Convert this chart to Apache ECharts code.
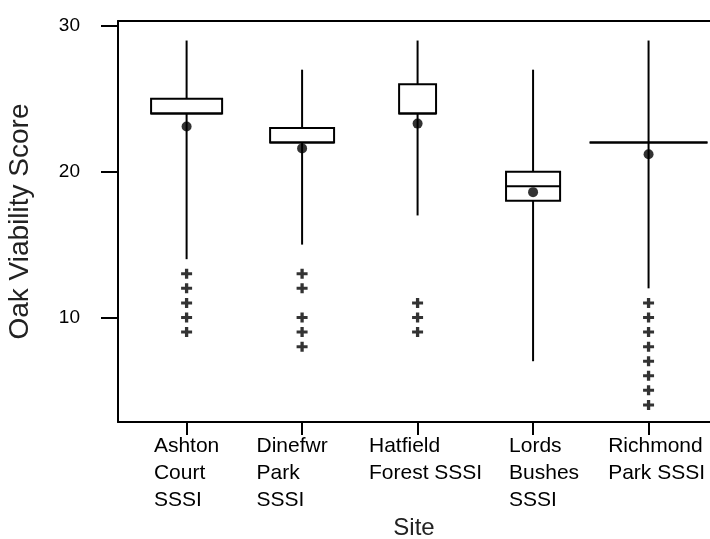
<!DOCTYPE html>
<html><head><meta charset="utf-8">
<script src="https://cdn.jsdelivr.net/npm/echarts@6/dist/echarts.min.js"></script>
<style>html,body{margin:0;padding:0;background:#fff}#c{width:710px;height:539px}</style>
</head><body><div id="c"></div>
<script>
// ---- data ----
const categories = ['Ashton\nCourt\nSSSI', 'Dinefwr\nPark\nSSSI', 'Hatfield\nForest SSSI', 'Lords\nBushes\nSSSI', 'Richmond\nPark SSSI'];
const sitePositions = [1, 2, 3, 4, 5];
const whiskerLow  = [14, 15, 17, 7, 12];
const q1          = [24, 22, 24, 18, 22];
const median      = [24, 22, 24, 19, 22];
const q3          = [25, 23, 26, 20, 22];
const whiskerHigh = [29, 27, 29, 27, 29];
const means       = [23.1, 21.6, 23.3, 18.6, 21.2];
const outliers = [
  [13, 12, 11, 10, 9],
  [13, 12, 10, 9, 8],
  [11, 10, 9],
  [],
  [11, 10, 9, 8, 7, 6, 5, 4]
];
const yTicks = [10, 20, 30];

// ---- style ----
const boxWidthRatio = [0.615, 0.554, 0.32, 0.468, 1.02]; // box widths relative to site spacing
const labelShiftPx = [0, -10, 8, 11, 8];                 // horizontal nudge of each tick label block
const FONT = 'Liberation Sans, Arial, sans-serif';

const boxData = sitePositions.map((p, i) => [p, whiskerLow[i], q1[i], median[i], q3[i], whiskerHigh[i]]);
const meanData = sitePositions.map((p, i) => [p, means[i]]);
const outlierData = [];
outliers.forEach((arr, i) => arr.forEach(v => outlierData.push([sitePositions[i], v])));

const rich = {};
labelShiftPx.forEach((s, i) => {
  rich['l' + i] = {
    align: 'left', fontSize: 21, lineHeight: 27, fontFamily: FONT, color: '#000',
    padding: s >= 0 ? [0, 0, 0, 2 * s] : [0, -2 * s, 0, 0]
  };
});

const chart = echarts.init(document.getElementById('c'), null, {renderer: 'canvas'});
const lineStyle = {color: '#000', width: 2};
const xMin = 0.406, xMax = 5.532;

chart.setOption({
  backgroundColor: '#fff',
  animation: false,
  grid: {left: 118, top: 21, right: 0, bottom: 117, containLabel: false, outerBoundsMode: 'none'},
  xAxis: [{
    type: 'value', min: xMin, max: xMax, position: 'bottom',
    axisLine: {show: true, onZero: false, lineStyle: lineStyle},
    axisTick: {show: true, length: 13, customValues: sitePositions, lineStyle: lineStyle},
    axisLabel: {
      customValues: sitePositions, margin: 11, align: 'center',
      formatter: v => {
        const idx = sitePositions.indexOf(Math.round(v));
        if (idx < 0) return '';
        return categories[idx].split('\n').map(s => '{l' + idx + '|' + s + '}').join('\n');
      },
      rich: rich
    },
    splitLine: {show: false},
    name: 'Site', nameLocation: 'middle', nameGap: 87,
    nameTextStyle: {fontSize: 24, fontFamily: FONT, color: '#222'}
  }, {
    type: 'value', min: xMin, max: xMax, position: 'top',
    axisLine: {show: true, onZero: false, lineStyle: lineStyle},
    axisTick: {show: false}, axisLabel: {show: false}, splitLine: {show: false}
  }],
  yAxis: {
    type: 'value', min: 2.83, max: 30.34,
    axisLine: {show: true, onZero: false, lineStyle: lineStyle},
    axisTick: {show: true, length: 17, customValues: yTicks, lineStyle: lineStyle},
    axisLabel: {customValues: yTicks, margin: 38, fontSize: 19, fontFamily: FONT, color: '#000'},
    splitLine: {show: false},
    name: 'Oak Viability Score', nameLocation: 'middle', nameGap: 84,
    nameTextStyle: {fontSize: 28, fontFamily: FONT, color: '#222'}
  },
  series: [{
    type: 'custom',
    data: boxData,
    encode: {x: 0, y: [1, 2, 3, 4, 5]},
    renderItem: function (params, api) {
      const i = params.dataIndex;
      const x = api.value(0);
      const pLow = api.coord([x, api.value(1)]);
      const pQ1 = api.coord([x, api.value(2)]);
      const pMed = api.coord([x, api.value(3)]);
      const pQ3 = api.coord([x, api.value(4)]);
      const pHigh = api.coord([x, api.value(5)]);
      const w = api.size([boxWidthRatio[i], 0])[0];
      const h = w / 2;
      const st = {stroke: '#000', lineWidth: 2, fill: null};
      return {type: 'group', children: [
        {type: 'line', shape: {x1: pHigh[0], y1: pHigh[1], x2: pQ3[0], y2: pQ3[1]}, style: st},
        {type: 'line', shape: {x1: pQ1[0], y1: pQ1[1], x2: pLow[0], y2: pLow[1]}, style: st},
        {type: 'rect', shape: {x: pQ3[0] - h, y: pQ3[1], width: w, height: pQ1[1] - pQ3[1]},
          style: {stroke: '#000', lineWidth: 2, fill: '#fff'}},
        {type: 'line', shape: {x1: pMed[0] - h, y1: pMed[1], x2: pMed[0] + h, y2: pMed[1]}, style: st}
      ]};
    },
    z: 2
  }, {
    type: 'scatter', data: meanData, symbol: 'circle', symbolSize: 10,
    itemStyle: {color: '#000'}, z: 3
  }, {
    type: 'scatter', data: outlierData,
    symbol: 'path://M3.5,0h3v3.5h3.5v3h-3.5v3.5h-3v-3.5h-3.5v-3h3.5z', symbolSize: [11, 10],
    itemStyle: {color: '#000'}, z: 3
  }]
});
</script>
</body></html>
